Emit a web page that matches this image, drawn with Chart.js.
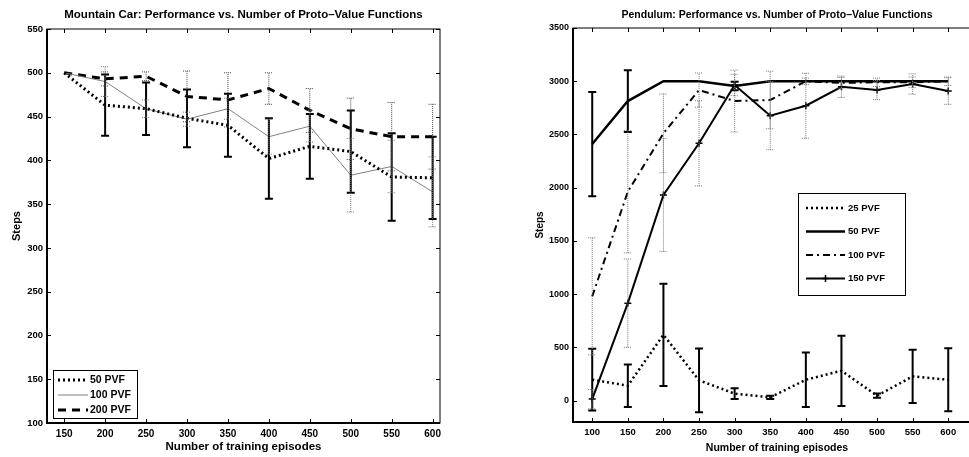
<!DOCTYPE html>
<html><head><meta charset="utf-8">
<script src="https://cdn.jsdelivr.net/npm/chart.js@4.4.1/dist/chart.umd.min.js"></script>
<style>
html,body{margin:0;padding:0;background:#fff;overflow:hidden;width:969px;height:457px;position:relative;}
#c1{position:absolute;left:0;top:0;}
#c2{position:absolute;left:484px;top:0;}
</style></head><body>
<canvas id="c1" width="484" height="457"></canvas>
<canvas id="c2" width="504" height="457"></canvas>
<script>
// ---------- Mountain Car data ----------
const mcEpisodes = [150, 200, 250, 300, 350, 400, 450, 500, 550, 600];
const mc50  = [500, 463, 459, 448, 440, 402, 416, 410, 381, 380];
const mc100 = [500, 490, 459, 447, 459, 427, 439, 383, 393, 364];
const mc200 = [500, 493, 496, 473, 469, 482, 457, 436, 427, 427];
const mcErr50  = [0, 35, 30, 33, 36, 46, 37, 47, 50, 47];
const mcErr100 = [0, 17, 10, 8, 12, 20, 18, 42, 30, 40];
const mcErr200 = [0, 8, 5, 29, 31, 18, 25, 35, 39, 37];
const mcXTicks = [150, 200, 250, 300, 350, 400, 450, 500, 550, 600];
const mcYTicks = [100, 150, 200, 250, 300, 350, 400, 450, 500, 550];

// ---------- Pendulum data ----------
const pdEpisodes = [100, 150, 200, 250, 300, 350, 400, 450, 500, 550, 600];
const pd25  = [197, 141, 619, 191, 66, 31, 197, 281, 47, 228, 197];
const pd50  = [2410, 2814, 3000, 3000, 2955, 3000, 3000, 3000, 3000, 3000, 3000];
const pd100 = [980, 1963, 2511, 2917, 2814, 2824, 3000, 2985, 2990, 2990, 3000];
const pd150 = [15, 916, 1932, 2417, 2964, 2677, 2770, 2948, 2917, 2974, 2908];
const pdErr25  = [290, 200, 480, 300, 50, 15, 255, 330, 20, 250, 295];
const pdErr50  = [490, 290, 0, 0, 40, 0, 0, 0, 0, 0, 0];
const pdErr100 = [550, 575, 370, 160, 290, 270, 30, 50, 40, 50, 40];
const pdErr150 = [90, 415, 530, 400, 100, 320, 305, 100, 90, 95, 125];
const pdXTicks = [100, 150, 200, 250, 300, 350, 400, 450, 500, 550, 600];
const pdYTicks = [0, 500, 1000, 1500, 2000, 2500, 3000, 3500];

const FONT = "'Liberation Sans', Arial, Helvetica, sans-serif";
const pts = (xs, ys) => xs.map((x, i) => ({x: x, y: ys[i]}));

// error bars drawn through the chart's scales
const errPlugin = {
  id: 'errBars',
  afterDatasetsDraw(chart) {
    const {ctx, chartArea: a, scales: {x, y}} = chart;
    ctx.save();
    ctx.beginPath(); ctx.rect(a.left, a.top, a.right - a.left, a.bottom - a.top); ctx.clip();
    chart.data.datasets.forEach(ds => {
      if (!ds.err) return;
      const st = ds.errStyle;
      ctx.strokeStyle = st.color; ctx.lineWidth = st.width; ctx.setLineDash(st.dash || []);
      ds.data.forEach((p, i) => {
        const e = ds.err[i];
        if (!e) return;
        const px = x.getPixelForValue(p.x);
        const y1 = y.getPixelForValue(p.y - e), y2 = y.getPixelForValue(p.y + e);
        ctx.beginPath();
        ctx.moveTo(px, y1); ctx.lineTo(px, y2);
        ctx.moveTo(px - 4, y1); ctx.lineTo(px + 4, y1);
        ctx.moveTo(px - 4, y2); ctx.lineTo(px + 4, y2);
        ctx.stroke();
      });
    });
    ctx.restore();
  }
};

// matlab-like box with inward ticks
const boxPlugin = {
  id: 'mbox',
  afterDraw(chart) {
    const {ctx, chartArea: a, scales: {x, y}} = chart;
    ctx.save();
    ctx.strokeStyle = '#000'; ctx.setLineDash([]);
    ctx.lineWidth = 1;
    ctx.strokeRect(a.left, a.top, a.right - a.left, a.bottom - a.top);
    ctx.beginPath();
    x.ticks.forEach(t => {
      const px = Math.round(x.getPixelForValue(t.value)) + 0.5;
      ctx.moveTo(px, a.bottom); ctx.lineTo(px, a.bottom - 4);
      ctx.moveTo(px, a.top); ctx.lineTo(px, a.top + 4);
    });
    y.ticks.forEach(t => {
      const py = Math.round(y.getPixelForValue(t.value)) + 0.5;
      ctx.moveTo(a.left, py); ctx.lineTo(a.left + 4, py);
      ctx.moveTo(a.right, py); ctx.lineTo(a.right - 4, py);
    });
    ctx.stroke();
    ctx.lineWidth = 2;
    ctx.beginPath();
    ctx.moveTo(a.left, a.top); ctx.lineTo(a.left, a.bottom); ctx.lineTo(a.right, a.bottom);
    ctx.stroke();
    ctx.restore();
  }
};

// legend box inside plot
const legPlugin = {
  id: 'inLegend',
  afterDraw(chart, args, o) {
    if (!o || !o.w) return;
    const ctx = chart.ctx;
    ctx.save();
    ctx.fillStyle = '#fff'; ctx.fillRect(o.x, o.y, o.w, o.h);
    ctx.strokeStyle = '#000'; ctx.lineWidth = 1; ctx.setLineDash([]);
    ctx.strokeRect(o.x + 0.5, o.y + 0.5, o.w, o.h);
    chart.data.datasets.forEach((ds, i) => {
      const yy = o.y + o.first + i * o.gap;
      ctx.strokeStyle = ds.borderColor; ctx.lineWidth = ds.borderWidth; ctx.setLineDash(ds.borderDash || []);
      ctx.beginPath(); ctx.moveTo(o.x + o.lx0, yy); ctx.lineTo(o.x + o.lx1, yy); ctx.stroke();
      ctx.setLineDash([]);
      if (ds.pointStyle === 'cross') {
        const mx = o.x + (o.lx0 + o.lx1) / 2;
        ctx.lineWidth = 1.5;
        ctx.beginPath(); ctx.moveTo(mx, yy - 3.5); ctx.lineTo(mx, yy + 3.5); ctx.moveTo(mx - 3.5, yy); ctx.lineTo(mx + 3.5, yy); ctx.stroke();
      }
      ctx.fillStyle = '#000'; ctx.font = o.font; ctx.textBaseline = 'middle'; ctx.textAlign = 'left';
      ctx.fillText(ds.label, o.x + o.tx, yy);
    });
    ctx.restore();
  }
};

function makeOptions(cfg) {
  return {
    responsive: false,
    animation: false,
    layout: {padding: {left: 0, right: cfg.padRight, top: 0, bottom: 0}},
    elements: {point: {radius: 0}, line: {tension: 0}},
    plugins: {
      legend: {display: false},
      tooltip: {enabled: false},
      title: {
        display: true, text: cfg.title, fullSize: false, color: '#000',
        font: {family: FONT, size: cfg.titleSize, weight: 'bold', lineHeight: 1.2},
        padding: {top: cfg.titlePadTop, bottom: cfg.titlePadBottom}
      },
      inLegend: cfg.legend
    },
    scales: {
      x: {
        type: 'linear', min: cfg.xMin, max: cfg.xMax,
        grid: {display: false, drawTicks: false}, border: {display: false},
        afterBuildTicks: s => { s.ticks = cfg.xTicks.map(v => ({value: v})); },
        afterFit: s => { s.height = cfg.xHeight; },
        ticks: {color: '#000', padding: 5, maxRotation: 0, autoSkip: false,
                callback: v => String(v),
                font: {family: FONT, size: cfg.tickSize, weight: 'bold'}},
        title: {display: true, text: 'Number of training episodes', color: '#000',
                font: {family: FONT, size: cfg.axTitleSize, weight: 'bold', lineHeight: 1.2},
                padding: {top: 0, bottom: cfg.xTitlePad}}
      },
      y: {
        type: 'linear', min: cfg.yMin, max: cfg.yMax,
        grid: {display: false, drawTicks: false}, border: {display: false},
        afterBuildTicks: s => { s.ticks = cfg.yTicks.map(v => ({value: v})); },
        afterFit: s => { s.width = cfg.yWidth; },
        ticks: {color: '#000', padding: 4, autoSkip: false,
                callback: v => String(v),
                font: {family: FONT, size: cfg.yTickSize, weight: 'bold'}},
        title: {display: true, text: 'Steps', color: '#000',
                font: {family: FONT, size: cfg.yTitleSize, weight: 'bold', lineHeight: 1.2},
                padding: {top: cfg.yTitlePad, bottom: 0}}
      }
    }
  };
}

new Chart(document.getElementById('c1'), {
  type: 'line',
  data: {datasets: [
    {label: '50 PVF', data: pts(mcEpisodes, mc50), borderColor: '#000', borderWidth: 3, borderDash: [2, 3],
     err: mcErr50, errStyle: {color: '#000', width: 2}},
    {label: '100 PVF', data: pts(mcEpisodes, mc100), borderColor: '#808080', borderWidth: 1,
     err: mcErr100, errStyle: {color: '#777', width: 1, dash: [1, 1]}},
    {label: '200 PVF', data: pts(mcEpisodes, mc200), borderColor: '#000', borderWidth: 3, borderDash: [8, 6],
     err: mcErr200, errStyle: {color: '#444', width: 1, dash: [1, 1]}}
  ]},
  options: makeOptions({
    title: 'Mountain Car: Performance vs. Number of Proto\u2013Value Functions',
    titleSize: 11.5, titlePadTop: 8, titlePadBottom: 7.2,
    padRight: 44, xMin: 129, xMax: 609, yMin: 100, yMax: 550,
    xTicks: mcXTicks, yTicks: mcYTicks, xHeight: 34, yWidth: 47,
    tickSize: 10, yTickSize: 9.5, axTitleSize: 11.5, xTitlePad: 3, yTitleSize: 11, yTitlePad: 10,
    legend: {x: 53, y: 370, w: 84, h: 48, first: 10, gap: 15, lx0: 5, lx1: 35, tx: 37,
             font: "bold 10.5px " + FONT}
  }),
  plugins: [errPlugin, boxPlugin, legPlugin]
});

new Chart(document.getElementById('c2'), {
  type: 'line',
  data: {datasets: [
    {label: '25 PVF', data: pts(pdEpisodes, pd25), borderColor: '#000', borderWidth: 2.5, borderDash: [2, 3],
     err: pdErr25, errStyle: {color: '#000', width: 2}},
    {label: '50 PVF', data: pts(pdEpisodes, pd50), borderColor: '#000', borderWidth: 2.5,
     err: pdErr50, errStyle: {color: '#000', width: 2}},
    {label: '100 PVF', data: pts(pdEpisodes, pd100), borderColor: '#000', borderWidth: 2, borderDash: [7, 4, 2, 4],
     err: pdErr100, errStyle: {color: '#777', width: 1, dash: [1, 1]}},
    {label: '150 PVF', data: pts(pdEpisodes, pd150), borderColor: '#000', borderWidth: 2,
     pointStyle: 'cross', pointRadius: 3.5, pointBorderWidth: 1.5, pointBorderColor: '#000',
     err: pdErr150, errStyle: {color: '#777', width: 1, dash: [1, 1]}}
  ]},
  options: makeOptions({
    title: 'Pendulum: Performance vs. Number of Proto\u2013Value Functions',
    titleSize: 10.5, titlePadTop: 9, titlePadBottom: 6.4,
    padRight: 7, xMin: 73, xMax: 646, yMin: -200, yMax: 3500,
    xTicks: pdXTicks, yTicks: pdYTicks, xHeight: 35, yWidth: 89,
    tickSize: 9.5, yTickSize: 9, axTitleSize: 10.5, xTitlePad: 3, yTitleSize: 10, yTitlePad: 50,
    legend: {x: 314, y: 193, w: 107, h: 102, first: 15, gap: 23.5, lx0: 8, lx1: 47, tx: 50,
             font: "bold 9.5px " + FONT}
  }),
  plugins: [errPlugin, boxPlugin, legPlugin]
});
</script>
</body></html>
